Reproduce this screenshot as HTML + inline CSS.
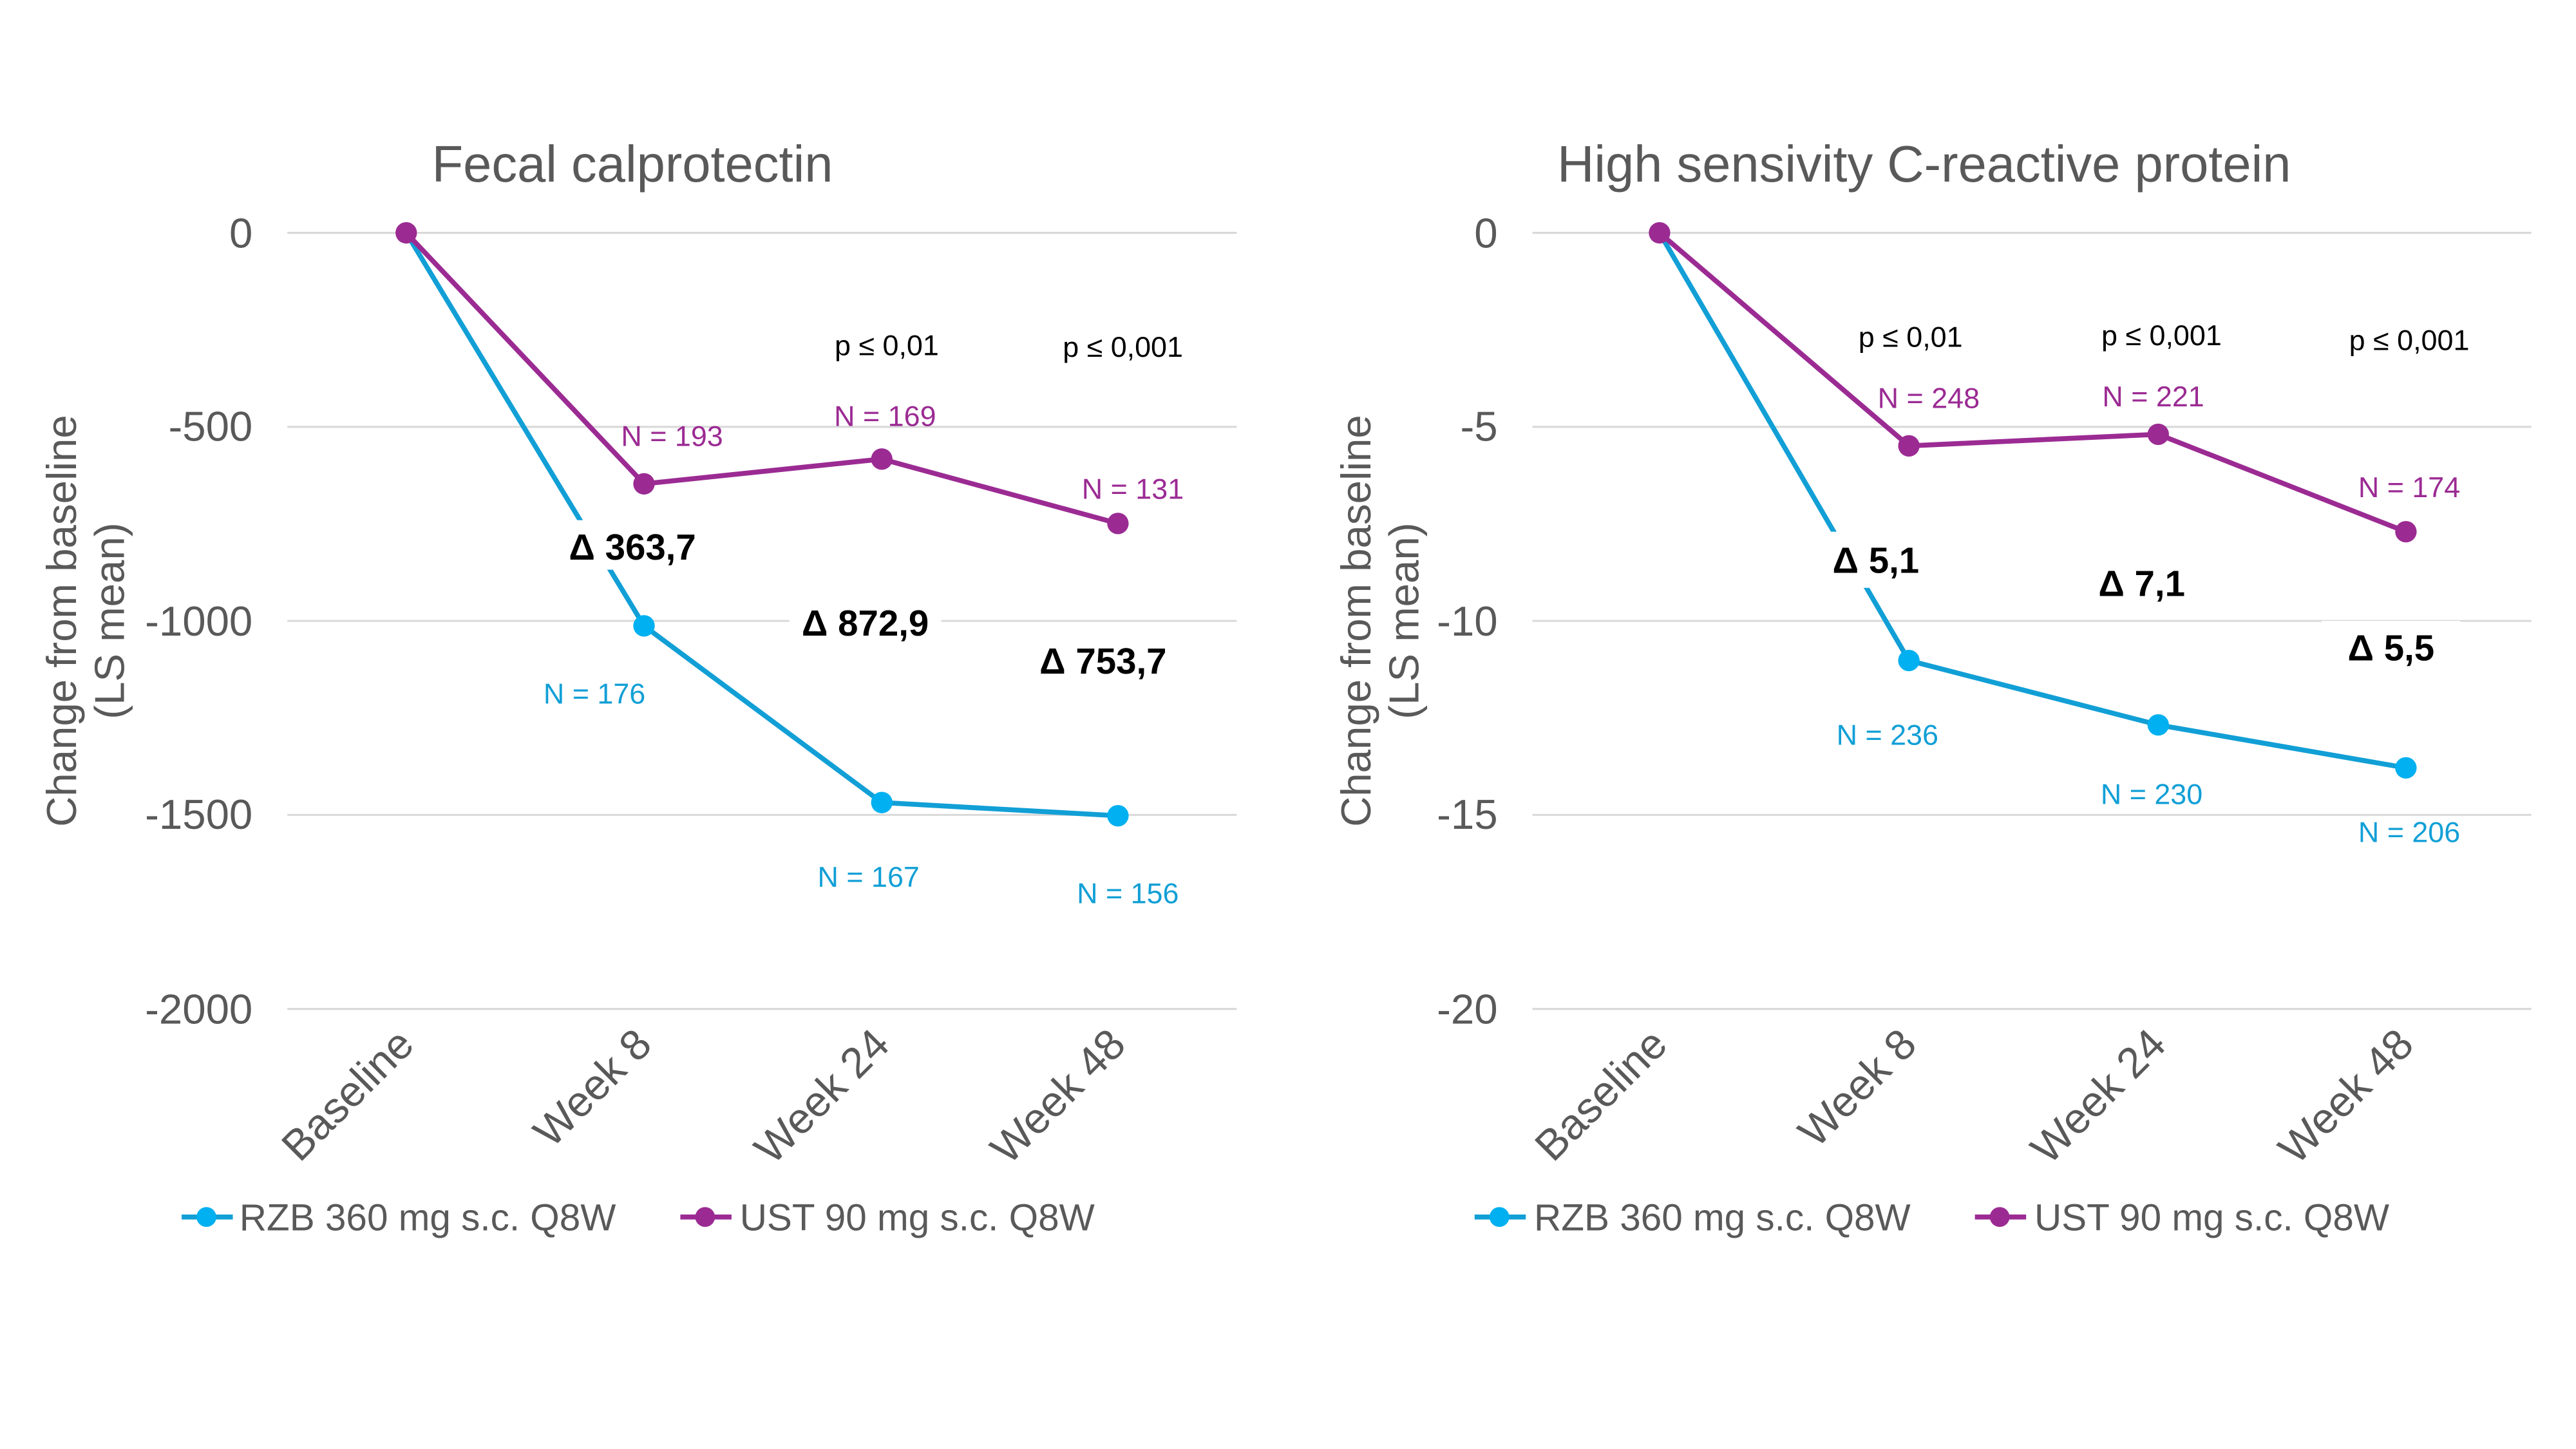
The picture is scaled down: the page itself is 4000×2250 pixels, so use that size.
<!DOCTYPE html>
<html><head><meta charset="utf-8"><style>
html,body{margin:0;padding:0;background:#fff;}
svg{display:block;}
text{font-family:"Liberation Sans",Arial,sans-serif;}
</style></head><body>
<svg width="4000" height="2250" viewBox="0 0 1560 877.5" xmlns="http://www.w3.org/2000/svg">
<rect width="1560" height="877.5" fill="#fff"/>
<!-- LEFT CHART -->
<g>
<text x="383" y="110" font-size="31" fill="#595959" text-anchor="middle">Fecal calprotectin</text>
<g stroke="#d9d9d9" stroke-width="1.2">
<line x1="174" x2="749" y1="141" y2="141"/><line x1="174" x2="749" y1="258.5" y2="258.5"/>
<line x1="174" x2="749" y1="376" y2="376"/><line x1="174" x2="749" y1="493.5" y2="493.5"/>
<line x1="174" x2="749" y1="611" y2="611"/></g>
<g font-size="25.5" fill="#595959" text-anchor="end">
<text x="153" y="150">0</text><text x="153" y="267">-500</text><text x="153" y="385">-1000</text>
<text x="153" y="502">-1500</text><text x="153" y="620">-2000</text></g>
<g font-size="25.5" fill="#595959" text-anchor="middle">
<text transform="translate(46,376) rotate(-90)">Change from baseline</text>
<text transform="translate(75,376) rotate(-90)">(LS mean)</text></g>
<g font-size="26" fill="#595959" text-anchor="end">
<text transform="translate(252,634) rotate(-45)">Baseline</text>
<text transform="translate(396,634) rotate(-45)">Week 8</text>
<text transform="translate(540,634) rotate(-45)">Week 24</text>
<text transform="translate(683,634) rotate(-45)">Week 48</text></g>
<polyline points="246,141 390,379 534,486 677,494" fill="none" stroke="#119fd6" stroke-width="3"/>
<polyline points="246,141 390,293 534,278 677,317" fill="none" stroke="#9b2b93" stroke-width="3"/>
<g fill="#00b0f0"><circle cx="390" cy="379" r="6.5"/><circle cx="534" cy="486" r="6.5"/><circle cx="677" cy="494" r="6.5"/></g>
<g fill="#9b2b93"><circle cx="246" cy="141" r="6.5"/><circle cx="390" cy="293" r="6.5"/><circle cx="534" cy="278" r="6.5"/><circle cx="677" cy="317" r="6.5"/></g>
<g fill="#fff"><rect x="340" y="315" width="86" height="30"/><rect x="478" y="361" width="92" height="30"/></g>
<g font-size="22" font-weight="bold" fill="#000" text-anchor="middle">
<text x="383" y="339">Δ 363,7</text><text x="524" y="385">Δ 872,9</text><text x="668" y="408">Δ 753,7</text></g>
<g font-size="17.5" fill="#000" text-anchor="middle"><text x="537" y="215">p ≤ 0,01</text><text x="680" y="216">p ≤ 0,001</text></g>
<g font-size="17.5" fill="#9b2b93" text-anchor="middle"><text x="407" y="270">N = 193</text><text x="536" y="258">N = 169</text><text x="686" y="302">N = 131</text></g>
<g font-size="17.5" fill="#119fd6" text-anchor="middle"><text x="360" y="426">N = 176</text><text x="526" y="537">N = 167</text><text x="683" y="547">N = 156</text></g>
<line x1="110" x2="141" y1="737" y2="737" stroke="#119fd6" stroke-width="3"/><circle cx="125" cy="737" r="6" fill="#00b0f0"/>
<text x="145" y="745" font-size="22.8" fill="#595959">RZB 360 mg s.c. Q8W</text>
<line x1="412" x2="443" y1="737" y2="737" stroke="#9b2b93" stroke-width="3"/><circle cx="427" cy="737" r="6" fill="#9b2b93"/>
<text x="448" y="745" font-size="22.8" fill="#595959">UST 90 mg s.c. Q8W</text>
</g>
<!-- RIGHT CHART -->
<g>
<text x="943" y="110" font-size="31" fill="#595959">High sensivity C-reactive protein</text>
<g stroke="#d9d9d9" stroke-width="1.2">
<line x1="928" x2="1533" y1="141" y2="141"/><line x1="928" x2="1533" y1="258.5" y2="258.5"/>
<line x1="928" x2="1533" y1="376" y2="376"/><line x1="928" x2="1533" y1="493.5" y2="493.5"/>
<line x1="928" x2="1533" y1="611" y2="611"/></g>
<g font-size="25.5" fill="#595959" text-anchor="end">
<text x="907" y="150">0</text><text x="907" y="267">-5</text><text x="907" y="385">-10</text>
<text x="907" y="502">-15</text><text x="907" y="620">-20</text></g>
<g font-size="25.5" fill="#595959" text-anchor="middle">
<text transform="translate(830,376) rotate(-90)">Change from baseline</text>
<text transform="translate(859,376) rotate(-90)">(LS mean)</text></g>
<g font-size="26" fill="#595959" text-anchor="end">
<text transform="translate(1011,634) rotate(-45)">Baseline</text>
<text transform="translate(1162,634) rotate(-45)">Week 8</text>
<text transform="translate(1313,634) rotate(-45)">Week 24</text>
<text transform="translate(1463,634) rotate(-45)">Week 48</text></g>
<polyline points="1005,141 1156,400 1307,439 1457,465" fill="none" stroke="#119fd6" stroke-width="3"/>
<polyline points="1005,141 1156,270 1307,263 1457,322" fill="none" stroke="#9b2b93" stroke-width="3"/>
<g fill="#00b0f0"><circle cx="1156" cy="400" r="6.5"/><circle cx="1307" cy="439" r="6.5"/><circle cx="1457" cy="465" r="6.5"/></g>
<g fill="#9b2b93"><circle cx="1005" cy="141" r="6.5"/><circle cx="1156" cy="270" r="6.5"/><circle cx="1307" cy="263" r="6.5"/><circle cx="1457" cy="322" r="6.5"/></g>
<g fill="#fff"><rect x="1102" y="322" width="68" height="34"/><rect x="1406" y="376" width="84" height="32"/></g>
<g font-size="22" font-weight="bold" fill="#000" text-anchor="middle">
<text x="1136" y="347">Δ 5,1</text><text x="1297" y="361">Δ 7,1</text><text x="1448" y="400">Δ 5,5</text></g>
<g font-size="17.5" fill="#000" text-anchor="middle"><text x="1157" y="210">p ≤ 0,01</text><text x="1309" y="209">p ≤ 0,001</text><text x="1459" y="212">p ≤ 0,001</text></g>
<g font-size="17.5" fill="#9b2b93" text-anchor="middle"><text x="1168" y="247">N = 248</text><text x="1304" y="246">N = 221</text><text x="1459" y="301">N = 174</text></g>
<g font-size="17.5" fill="#119fd6" text-anchor="middle"><text x="1143" y="451">N = 236</text><text x="1303" y="487">N = 230</text><text x="1459" y="510">N = 206</text></g>
<line x1="893" x2="924" y1="737" y2="737" stroke="#119fd6" stroke-width="3"/><circle cx="908" cy="737" r="6" fill="#00b0f0"/>
<text x="929" y="745" font-size="22.8" fill="#595959">RZB 360 mg s.c. Q8W</text>
<line x1="1196" x2="1227" y1="737" y2="737" stroke="#9b2b93" stroke-width="3"/><circle cx="1211" cy="737" r="6" fill="#9b2b93"/>
<text x="1232" y="745" font-size="22.8" fill="#595959">UST 90 mg s.c. Q8W</text>
</g>
</svg>
</body></html>
